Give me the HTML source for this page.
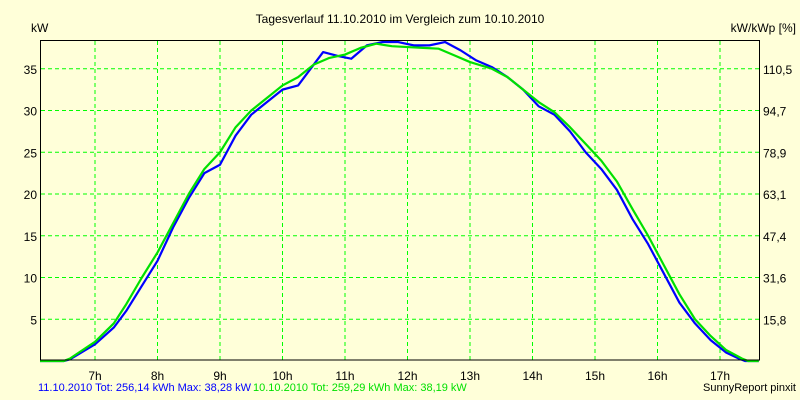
<!DOCTYPE html>
<html><head><meta charset="utf-8"><style>
body{margin:0;background:#FFFFD9;}
svg{display:block;font-family:"Liberation Sans",sans-serif;font-size:12px;}
</style></head><body>
<svg width="800" height="400">
<rect width="800" height="400" fill="#FFFFD9"/>
<text x="400" y="23" text-anchor="middle">Tagesverlauf 11.10.2010 im Vergleich zum 10.10.2010</text>
<text x="31" y="32">kW</text>
<text x="796" y="32" text-anchor="end">kW/kWp [%]</text>
<g id="grid"></g>
<g id="series"></g>
<rect x="40.5" y="40.5" width="719" height="319.5" fill="none" stroke="#000" stroke-width="1"/>
<g id="labels"></g>
<text x="38" y="391" fill="#0000FF" font-size="11">11.10.2010 Tot: 256,14 kWh Max: 38,28 kW</text>
<text x="253" y="391" fill="#00E000" font-size="11">10.10.2010 Tot: 259,29 kWh Max: 38,19 kW</text>
<text x="796" y="391" text-anchor="end" font-size="11">SunnyReport pinxit</text>
</svg>
<script>
const hourTicks=[7,8,9,10,11,12,13,14,15,16,17];
const yTicks=[5,10,15,20,25,30,35];
const rightLabels=["15,8","31,6","47,4","63,1","78,9","94,7","110,5"];
const blueX=[6.12,6.5,6.6,7.0,7.3,7.5,7.75,8.0,8.25,8.5,8.75,9.0,9.25,9.5,9.75,10.0,10.25,10.5,10.65,10.9,11.1,11.35,11.6,11.85,12.1,12.35,12.6,12.85,13.1,13.35,13.6,13.85,14.1,14.35,14.6,14.85,15.1,15.35,15.6,15.85,16.1,16.35,16.6,16.85,17.1,17.3,17.4,17.62];
const blueY=[0,0,0.2,2,4,6,9,12,16,19.5,22.5,23.5,27,29.5,31,32.5,33,35.5,37,36.5,36.2,37.8,38.2,38.2,37.8,37.8,38.2,37.2,36,35.2,34,32.5,30.5,29.5,27.5,25,23,20.5,17,14,10.5,7,4.5,2.5,1,0.3,0,0];
const greenX=[6.12,6.5,6.6,7.0,7.3,7.5,7.75,8.0,8.25,8.5,8.75,9.0,9.25,9.5,9.75,10.0,10.25,10.5,10.75,11.0,11.25,11.5,11.75,12.0,12.25,12.5,12.75,13.0,13.35,13.6,13.85,14.1,14.35,14.6,14.85,15.1,15.35,15.6,15.85,16.1,16.35,16.6,16.85,17.1,17.35,17.45,17.62];
const greenY=[0,0,0.3,2.3,4.5,6.8,10,13,16.5,20,23,25,28,30,31.5,33,34,35.5,36.3,36.7,37.5,38,37.7,37.6,37.5,37.4,36.6,35.8,35,34,32.5,31,29.8,28,26,24,21.5,18.2,15,11.5,8,5,3,1.3,0.3,0,0];
const NS="http://www.w3.org/2000/svg";
const xs=h=>95+(h-7)*62.5;
const ys=v=>361-v*8.35;
function mk(t,a,p){const e=document.createElementNS(NS,t);for(const k in a)e.setAttribute(k,a[k]);p.appendChild(e);return e;}
const grid=document.getElementById('grid'),lab=document.getElementById('labels'),ser=document.getElementById('series');
hourTicks.forEach(h=>{
 const l=mk('line',{x1:xs(h),x2:xs(h),y1:41,y2:360,stroke:'#00FF00','stroke-dasharray':'4,3'},grid);
 
 
 const t=mk('text',{x:xs(h),y:380,'text-anchor':'middle'},lab);t.textContent=h+'h';
 
 
});
yTicks.forEach((v,i)=>{
 const l=mk('line',{x1:41,x2:759,y1:ys(v),y2:ys(v),stroke:'#00FF00','stroke-dasharray':'4,3'},grid);
 
 
 const t=mk('text',{x:37,y:ys(v)+5,'text-anchor':'end'},lab);t.textContent=v;
 
 
 const r=mk('text',{x:763,y:ys(v)+5},lab);r.textContent=rightLabels[i];
 
 
});
function line(X,Y,c,n){
 const p=mk('polyline',{points:X.map((x,i)=>xs(x)+','+ys(Y[i])).join(' '),fill:'none',stroke:c,'stroke-width':2.2,'stroke-linejoin':'round'},ser);
 
 
}
line(blueX,blueY,'#0000FF','series-11-10-2010');
line(greenX,greenY,'#00E000','series-10-10-2010');
</script>
</body></html>
